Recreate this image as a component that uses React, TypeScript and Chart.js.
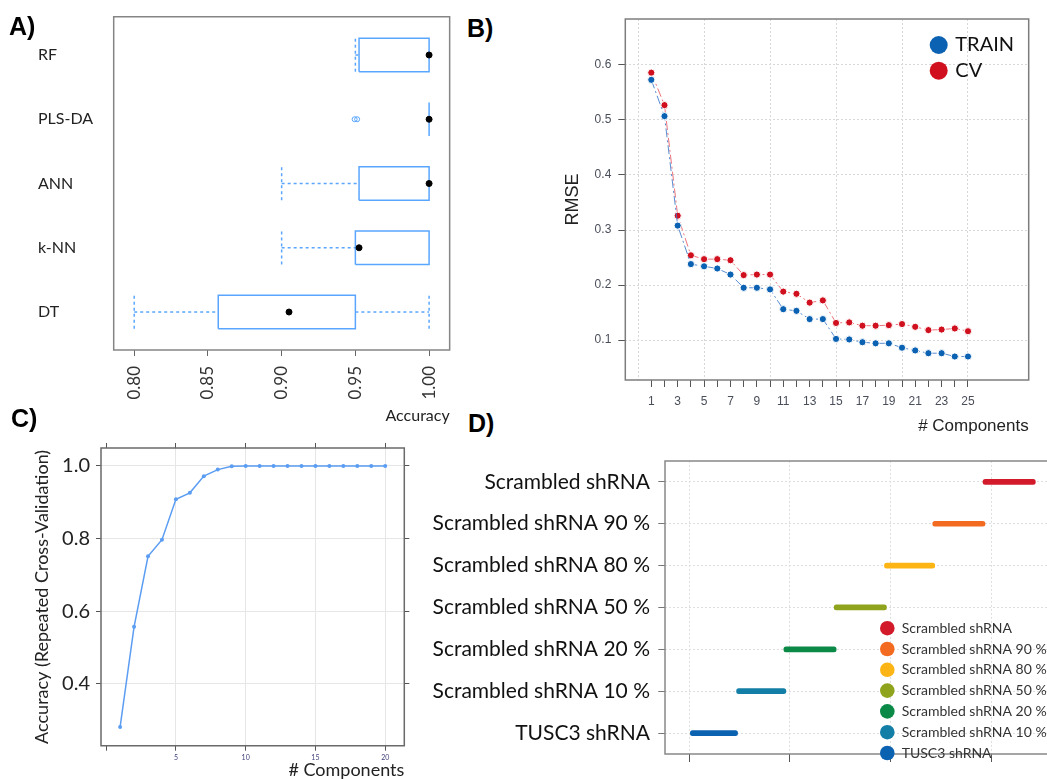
import React, { useEffect, useRef } from 'react';
import { Chart, registerables } from 'chart.js';

Chart.register(...registerables);

// ===== Panel A: accuracy box plots =====
const modelNames = ['DT', 'k-NN', 'ANN', 'PLS-DA', 'RF'];
const modelRows = [1, 2, 3, 4, 5];
const boxLower = [0.857, 0.95, 0.9525, 1.0, 0.9525];
const boxMedian = [0.905, 0.9525, 1.0, 1.0, 1.0];
const boxUpper = [0.95, 1.0, 1.0, 1.0, 1.0];
const whiskerLow = [0.8, 0.9, 0.9, 1.0, 0.95];
const whiskerHigh = [1.0, 1.0, 1.0, 1.0, 1.0];
const outlierRows = [4, 4];
const outlierValues = [0.9495, 0.9512];
const accuracyTicksA = [0.8, 0.85, 0.9, 0.95, 1.0];

// ===== Panel B: RMSE vs components =====
const componentsB = [1, 2, 3, 4, 5, 6, 7, 8, 9, 10, 11, 12, 13, 14, 15, 16, 17, 18, 19, 20, 21, 22, 23, 24, 25];
const rmseTrain = [0.573, 0.507, 0.308, 0.238, 0.234, 0.23, 0.219, 0.195, 0.195, 0.192, 0.156, 0.153, 0.138, 0.138, 0.102, 0.101, 0.096, 0.094, 0.094, 0.086, 0.081, 0.076, 0.076, 0.07, 0.07];
const rmseCV = [0.586, 0.527, 0.326, 0.254, 0.247, 0.247, 0.245, 0.218, 0.219, 0.219, 0.188, 0.184, 0.168, 0.172, 0.131, 0.132, 0.126, 0.126, 0.127, 0.129, 0.124, 0.118, 0.119, 0.121, 0.116];
const componentTicksB = [0, 1, 2, 3, 4, 5, 6, 7, 8, 9, 10, 11, 12, 13, 14, 15, 16, 17, 18, 19, 20, 21, 22, 23, 24, 25];
const rmseTicks = [0.1, 0.2, 0.3, 0.4, 0.5, 0.6];
const seriesNamesB = ['TRAIN', 'CV'];

// ===== Panel C: CV accuracy vs components =====
const componentsC = [1, 2, 3, 4, 5, 6, 7, 8, 9, 10, 11, 12, 13, 14, 15, 16, 17, 18, 19, 20];
const cvAccuracy = [0.281, 0.557, 0.751, 0.797, 0.908, 0.926, 0.972, 0.99, 0.999, 1.0, 1.0, 1.0, 1.0, 1.0, 1.0, 1.0, 1.0, 1.0, 1.0, 1.0];
const componentTicksC = [0, 5, 10, 15, 20];
const accuracyTicksC = [0.4, 0.6, 0.8, 1.0];

// ===== Panel D: group ranges =====
const groupLabels = ['Scrambled shRNA', 'Scrambled shRNA 90 %', 'Scrambled shRNA 80 %', 'Scrambled shRNA 50 %', 'Scrambled shRNA 20 %', 'Scrambled shRNA 10 %', 'TUSC3 shRNA'];
const groupStart = [2.92, 2.42, 1.94, 1.44, 0.94, 0.47, 0.01];
const groupEnd = [3.44, 2.94, 2.44, 1.96, 1.46, 0.96, 0.48];
const groupColors = ['#d31a2b', '#f26b21', '#fdb515', '#8fa31c', '#0b8a47', '#137fa7', '#0b62b0'];
const groupTicksD = [0, 1, 2, 3];

// ---------- helpers ----------
type Rect = { left: number; top: number; width: number; height: number };

function framePlugin(color: string, width: number, sides = 'tlbr') {
  return {
    id: 'frame',
    afterDatasetsDraw(chart: any) {
      const { ctx, chartArea } = chart;
      const { left, top, right, bottom } = chartArea;
      ctx.save();
      ctx.strokeStyle = color;
      ctx.lineWidth = width;
      ctx.lineCap = 'square';
      ctx.setLineDash([]);
      ctx.beginPath();
      if (sides.includes('t')) { ctx.moveTo(left, top); ctx.lineTo(right, top); }
      if (sides.includes('r')) { ctx.moveTo(right, top); ctx.lineTo(right, bottom); }
      if (sides.includes('b')) { ctx.moveTo(left, bottom); ctx.lineTo(right, bottom); }
      if (sides.includes('l')) { ctx.moveTo(left, top); ctx.lineTo(left, bottom); }
      ctx.stroke();
      ctx.restore();
    },
  };
}

type LegendCfg = { fromRight: boolean; dx: number; dy: number; row: number; radius: number; gap: number; font: string; textColor: string };
function dotLegendPlugin(labels: string[], colors: string[], cfg: LegendCfg) {
  return {
    id: 'dotLegend',
    afterDraw(chart: any) {
      const { ctx, chartArea } = chart;
      const cx = cfg.fromRight ? chartArea.right - cfg.dx : chartArea.left + cfg.dx;
      ctx.save();
      ctx.font = cfg.font;
      ctx.textBaseline = 'middle';
      ctx.textAlign = 'left';
      labels.forEach((label, i) => {
        const cy = chartArea.top + cfg.dy + i * cfg.row;
        ctx.beginPath();
        ctx.arc(cx, cy, cfg.radius, 0, Math.PI * 2);
        ctx.fillStyle = colors[i];
        ctx.fill();
        ctx.fillStyle = cfg.textColor;
        ctx.fillText(label, cx + cfg.gap, cy);
      });
      ctx.restore();
    },
  };
}

const setTicks = (values: number[]) => (scale: any) => {
  scale.ticks = values.map((v) => ({ value: v }));
};
const fixWidth = (w: number) => (scale: any) => { scale.width = w; };
const fixHeight = (h: number) => (scale: any) => { scale.height = h; };

const basePlugins = { legend: { display: false }, tooltip: { enabled: false }, title: { display: false } };

// ---------- Panel A ----------
function makeA() {
  const blue = '#5aa6ff';
  const half = 0.26;
  const datasets: any[] = [];
  modelRows.forEach((row, i) => {
    const lo = boxLower[i];
    const hi = boxUpper[i];
    datasets.push({
      label: modelNames[i] + ' box',
      data: [
        { x: lo, y: row - half }, { x: hi, y: row - half }, { x: hi, y: row + half },
        { x: lo, y: row + half }, { x: lo, y: row - half },
      ],
      showLine: true, borderColor: blue, borderWidth: 1.5, pointRadius: 0,
    });
    if (whiskerLow[i] < lo) {
      datasets.push({ label: 'wl', data: [{ x: whiskerLow[i], y: row }, { x: lo, y: row }], showLine: true, borderColor: blue, borderWidth: 1.5, borderDash: [3, 3], pointRadius: 0 });
      datasets.push({ label: 'cl', data: [{ x: whiskerLow[i], y: row - half }, { x: whiskerLow[i], y: row + half }], showLine: true, borderColor: blue, borderWidth: 1.5, borderDash: [3, 3], pointRadius: 0 });
    }
    if (whiskerHigh[i] > hi) {
      datasets.push({ label: 'wh', data: [{ x: hi, y: row }, { x: whiskerHigh[i], y: row }], showLine: true, borderColor: blue, borderWidth: 1.5, borderDash: [3, 3], pointRadius: 0 });
      datasets.push({ label: 'ch', data: [{ x: whiskerHigh[i], y: row - half }, { x: whiskerHigh[i], y: row + half }], showLine: true, borderColor: blue, borderWidth: 1.5, borderDash: [3, 3], pointRadius: 0 });
    }
  });
  datasets.unshift({
    label: 'median',
    data: modelRows.map((r, i) => ({ x: boxMedian[i], y: r })),
    showLine: false, pointRadius: 3, pointBackgroundColor: '#000', pointBorderColor: '#000',
  });
  datasets.push({
    label: 'outliers',
    data: outlierRows.map((r, i) => ({ x: outlierValues[i], y: r })),
    showLine: false, pointRadius: 2.5, pointBackgroundColor: 'rgba(0,0,0,0)', pointBorderColor: blue, pointBorderWidth: 1,
  });
  return {
    type: 'scatter',
    data: { datasets },
    options: {
      responsive: false, animation: false, events: [],
      layout: { padding: { left: 38, top: 16.7, right: 8.3, bottom: 0 } },
      plugins: basePlugins,
      scales: {
        x: {
          type: 'linear', min: 0.7861, max: 1.01395,
          afterBuildTicks: setTicks(accuracyTicksA),
          afterFit: fixHeight(79),
          ticks: { minRotation: 90, maxRotation: 90, autoSkip: false, padding: 10, color: '#333', font: { family: 'Lato', size: 17 }, callback: (v: any) => Number(v).toFixed(2) },
          grid: { drawOnChartArea: false, drawTicks: true, tickLength: 6, tickColor: '#666' },
          border: { display: false },
          title: { display: true, text: 'Accuracy', align: 'end', color: '#222', font: { family: 'Lato', size: 16 }, padding: { top: 0, bottom: 4 } },
        },
        y: {
          type: 'linear', min: 0.409, max: 5.596,
          afterBuildTicks: setTicks(modelRows),
          afterFit: fixWidth(75.7),
          ticks: { crossAlign: 'far', autoSkip: false, color: '#222', font: { family: 'Lato', size: 16 }, callback: (_v: any, i: number) => modelNames[i] },
          grid: { display: false },
          border: { display: false },
        },
      },
    },
    plugins: [framePlugin('#858585', 1.5)],
  };
}

// ---------- Panel B ----------
function makeB() {
  const pointColors = ['#0b62b2', '#d0101e'];
  const lineColors = ['rgba(60,120,200,0.85)', 'rgba(230,90,100,0.85)'];
  const series = [rmseTrain, rmseCV];
  const datasets = series.map((vals, k) => ({
    label: seriesNamesB[k],
    data: componentsB.map((c, i) => ({ x: c, y: vals[i] })),
    borderColor: lineColors[k], borderWidth: 1, borderDash: [9, 3, 2, 3],
    pointRadius: 3.6, pointBackgroundColor: pointColors[k], pointBorderColor: '#fff', pointBorderWidth: 1,
  }));
  return {
    type: 'line',
    data: { datasets },
    options: {
      responsive: false, animation: false, events: [],
      layout: { padding: { left: 37.9, top: 19, right: 18.3, bottom: 0 } },
      plugins: basePlugins,
      scales: {
        x: {
          type: 'linear', min: -0.97, max: 29.6,
          afterBuildTicks: setTicks(componentTicksB),
          afterFit: fixHeight(61),
          ticks: { autoSkip: false, maxRotation: 0, padding: 7.5, color: '#4a4e5a', font: { family: 'Liberation Sans', size: 12 }, callback: (v: any) => (Number(v) % 2 === 1 ? String(v) : '') },
          grid: {
            drawOnChartArea: true, tickLength: 7,
            color: (c: any) => (c.tick && c.tick.value % 5 === 0 ? '#d8d8d8' : 'rgba(0,0,0,0)'),
            tickColor: (c: any) => (c.tick && c.tick.value === 0 ? 'rgba(0,0,0,0)' : '#555'),
          },
          border: { display: false, dash: [2, 2] },
          title: { display: true, text: '# Components', align: 'end', color: '#222', font: { family: 'Liberation Sans', size: 17 }, padding: { top: 0, bottom: 4 } },
        },
        y: {
          type: 'linear', min: 0.0273, max: 0.6836,
          afterBuildTicks: setTicks(rmseTicks),
          afterFit: fixWidth(67.4),
          ticks: { padding: 7, color: '#4a4e5a', font: { family: 'Liberation Sans', size: 12 }, callback: (v: any) => Number(v).toFixed(1) },
          grid: { color: '#d8d8d8', tickLength: 7, tickColor: '#555' },
          border: { display: false, dash: [2, 2] },
          title: { display: true, text: 'RMSE', color: '#222', font: { family: 'Liberation Sans', size: 18 }, padding: { top: 4, bottom: 4 } },
        },
      },
    },
    plugins: [
      framePlugin('#7d7d7d', 1.5),
      dotLegendPlugin(seriesNamesB, pointColors, { fromRight: true, dx: 90, dy: 26, row: 25.7, radius: 9, gap: 16.6, font: '20px Lato', textColor: '#111' }),
    ],
  };
}

// ---------- Panel C ----------
function makeC() {
  const lineColor = '#5b9df2';
  const tickMark = { drawOnChartArea: false, tickLength: 5, tickColor: '#555' };
  return {
    type: 'line',
    data: {
      datasets: [{
        label: 'Accuracy',
        data: componentsC.map((c, i) => ({ x: c, y: cvAccuracy[i] })),
        borderColor: lineColor, borderWidth: 1.5, pointRadius: 2, pointBackgroundColor: lineColor, pointBorderColor: lineColor, pointBorderWidth: 0,
        xAxisID: 'x', yAxisID: 'y',
      }],
    },
    options: {
      responsive: false, animation: false, events: [],
      layout: { padding: { left: 26.9, top: 12.7, right: 27.7, bottom: 0 } },
      plugins: basePlugins,
      scales: {
        x: {
          type: 'linear', position: 'bottom', min: -0.37, max: 21.37,
          afterBuildTicks: setTicks(componentTicksC),
          afterFit: fixHeight(33.3),
          ticks: { autoSkip: false, maxRotation: 0, padding: 3, color: '#40407a', font: { family: 'Lato', size: 7 }, callback: (v: any) => (Number(v) === 0 ? '' : String(v)) },
          grid: { color: (c: any) => (c.tick && c.tick.value === 0 ? 'rgba(0,0,0,0)' : '#e6e6e6'), tickLength: 5, tickColor: '#555' },
          border: { display: false },
          title: { display: true, text: '# Components', align: 'end', color: '#222', font: { family: 'Lato', size: 18, lineHeight: 1 }, padding: { top: 0, bottom: 0 } },
        },
        x2: {
          type: 'linear', position: 'top', min: -0.37, max: 21.37,
          afterBuildTicks: setTicks(componentTicksC),
          afterFit: fixHeight(5),
          ticks: { display: false },
          grid: tickMark,
          border: { display: false },
        },
        y: {
          type: 'linear', position: 'left', min: 0.2294, max: 1.0495,
          afterBuildTicks: setTicks(accuracyTicksC),
          afterFit: fixWidth(74.1),
          ticks: { padding: 6, color: '#222', font: { family: 'Lato', size: 20 }, callback: (v: any) => Number(v).toFixed(1) },
          grid: { color: '#e6e6e6', tickLength: 5, tickColor: '#555' },
          border: { display: false },
          title: { display: true, text: 'Accuracy (Repeated Cross-Validation)', color: '#222', font: { family: 'Lato', size: 18 }, padding: { top: 4, bottom: 4 } },
        },
        y2: {
          type: 'linear', position: 'right', min: 0.2294, max: 1.0495,
          afterBuildTicks: setTicks(accuracyTicksC),
          afterFit: fixWidth(8),
          ticks: { display: false },
          grid: tickMark,
          border: { display: false },
        },
      },
    },
    plugins: [framePlugin('#6a6a6a', 1.5)],
  };
}

// ---------- Panel D ----------
function makeD() {
  return {
    type: 'bar',
    data: {
      labels: groupLabels,
      datasets: [{
        label: 'Range',
        data: groupStart.map((s, i) => [s, groupEnd[i]]),
        backgroundColor: groupColors, borderWidth: 0, borderSkipped: false, borderRadius: 2.5, barThickness: 5,
      }],
    },
    options: {
      indexAxis: 'y',
      responsive: false, animation: false, events: [],
      layout: { padding: { left: 0, top: 12.7, right: 0, bottom: 0 } },
      plugins: basePlugins,
      scales: {
        x: {
          type: 'linear', min: -0.2416, max: 3.556,
          afterBuildTicks: setTicks(groupTicksD),
          afterFit: fixHeight(25),
          ticks: { display: false },
          grid: { color: '#dedede', tickLength: 8, tickColor: '#555' },
          border: { display: false, dash: [2, 2] },
        },
        y: {
          type: 'category', offset: true,
          afterFit: fixWidth(245),
          ticks: { padding: 8.3, color: '#111', font: { family: 'Lato', size: 21 } },
          grid: { offset: false, color: '#dedede', tickLength: 6.7, tickColor: '#777' },
          border: { display: false, dash: [2, 2] },
        },
      },
    },
    plugins: [
      framePlugin('#888', 1.5, 'tlb'),
      dotLegendPlugin(groupLabels, groupColors, { fromRight: false, dx: 222.3, dy: 167.3, row: 20.8, radius: 7.3, gap: 14.4, font: '14px Lato', textColor: '#333' }),
    ],
  };
}

function ChartCanvas({ rect, make }: { rect: Rect; make: () => any }) {
  const ref = useRef<HTMLCanvasElement>(null);
  useEffect(() => {
    const chart = new Chart(ref.current as HTMLCanvasElement, make());
    return () => chart.destroy();
  }, []);
  return (
    <canvas
      ref={ref}
      width={rect.width}
      height={rect.height}
      style={{ position: 'absolute', left: rect.left, top: rect.top, width: rect.width, height: rect.height }}
    />
  );
}

const labelStyle = (left: number, top: number): React.CSSProperties => ({
  position: 'absolute', left, top, fontFamily: 'Liberation Sans, Arial, sans-serif', fontWeight: 700, fontSize: 25, lineHeight: '25px', color: '#000',
});

export default function App() {
  return (
    <div style={{ position: 'absolute', left: 0, top: 0, width: 1047, height: 779, background: '#fff', overflow: 'hidden' }}>
      <ChartCanvas rect={{ left: 0, top: 0, width: 460, height: 429 }} make={makeA} />
      <ChartCanvas rect={{ left: 520, top: 0, width: 527, height: 441 }} make={makeB} />
      <ChartCanvas rect={{ left: 0, top: 430, width: 440, height: 349 }} make={makeC} />
      <ChartCanvas rect={{ left: 420, top: 440, width: 627, height: 339 }} make={makeD} />
      <div style={labelStyle(9, 14)}>A)</div>
      <div style={labelStyle(467, 15.5)}>B)</div>
      <div style={labelStyle(11, 405.5)}>C)</div>
      <div style={labelStyle(468, 410.5)}>D)</div>
    </div>
  );
}
